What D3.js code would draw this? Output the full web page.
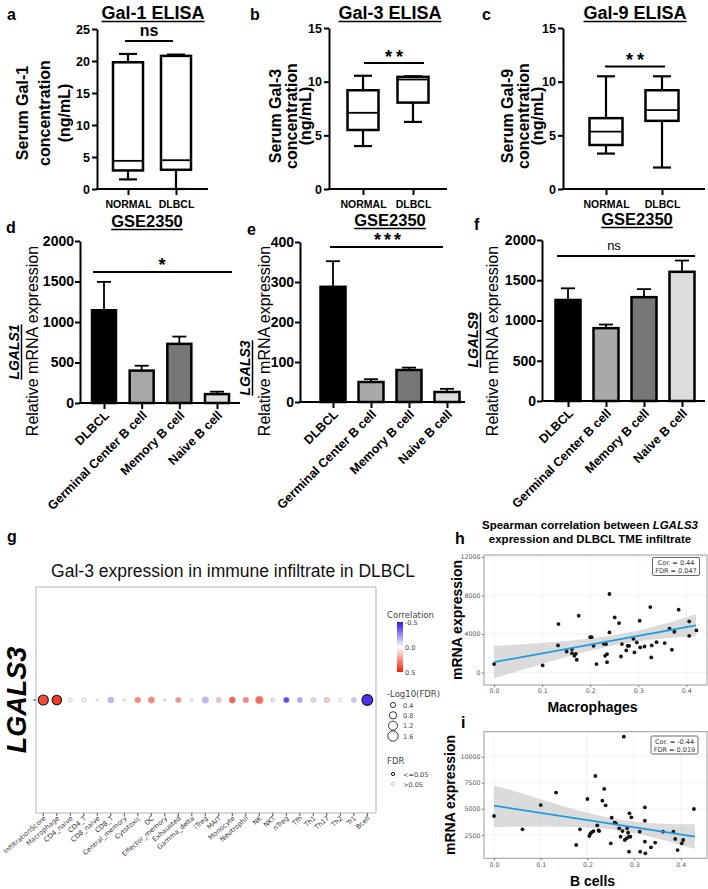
<!DOCTYPE html>
<html>
<head>
<meta charset="utf-8">
<script src="https://cdn.jsdelivr.net/npm/d3@7"></script>
<style>
  body { margin: 0; background: #fff; }
  svg { display: block; font-family: "Liberation Sans", Arial, sans-serif; }
</style>
</head>
<body>
<svg id="fig" width="708" height="889"></svg>
<script>
// ---- data ----
const elisaGroups = ["NORMAL", "DLBCL"];
// [min, q1, median, q3, max]
const gal1Normal = [1.5, 2.9, 4.4, 19.8, 21.1];
const gal1Dlbcl = [0, 3.0, 4.5, 20.8, 21.0];
const gal3Normal = [4.0, 5.5, 7.1, 9.2, 10.55];
const gal3Dlbcl = [6.25, 8.05, 10.2, 10.45, 10.5];
const gal9Normal = [3.3, 4.1, 5.35, 6.6, 10.5];
const gal9Dlbcl = [2.0, 6.35, 7.35, 9.2, 10.5];
const gal1Ticks = [0, 5, 10, 15, 20, 25];
const gal39Ticks = [0, 5, 10, 15];

const cellTypes = ["DLBCL", "Germinal Center B cell", "Memory B cell", "Naive B cell"];
const lgals1Mean = [1145, 400, 730, 110];
const lgals1Sem = [350, 60, 90, 30];
const lgals3Mean = [288, 50, 80, 25];
const lgals3Sem = [64, 7, 6, 8];
const lgals9Mean = [1255, 905, 1290, 1605];
const lgals9Sem = [145, 45, 100, 140];
const ticks2000 = [0, 500, 1000, 1500, 2000];
const ticks400 = [0, 100, 200, 300, 400];

const infiltrates = ["InfiltrationScore", "Macrophage", "CD4_naive", "CD4_T", "CD8_naive", "CD8_T",
  "Central_memory", "Cytotoxic", "DC", "Effector_memory", "Exhausted", "Gamma_delta", "iTreg", "MAIT",
  "Monocyte", "Neutrophil", "NK", "NKT", "nTreg", "Tfh", "Th1", "Th17", "Th2", "Tr1", "Bcell"];
const infCorr = [0.40, 0.44, 0.02, 0.01, 0.0, -0.16, 0.0, 0.28, 0.27, 0.02, 0.24, 0.0, -0.16, 0.14,
  0.36, 0.27, 0.34, 0.07, -0.40, -0.19, -0.09, 0.12, 0.0, -0.13, -0.44];
const infLogFdr = [1.5, 1.33, 0.24, 0.24, 0.1, 0.54, 0.13, 0.54, 0.65, 0.1, 0.47, 0.13, 0.6, 0.37,
  0.65, 0.54, 0.95, 0.24, 0.54, 0.43, 0.37, 0.43, 0.17, 0.37, 1.72];
const sizeLegend = [0.4, 0.8, 1.2, 1.6];
const corrLegend = [-0.5, 0.0, 0.5];

const macroX = [0.0, 0.101, 0.134, 0.133, 0.151, 0.162, 0.162, 0.167, 0.170, 0.172, 0.176, 0.200, 0.203,
  0.207, 0.213, 0.228, 0.233, 0.231, 0.235, 0.235, 0.240, 0.240, 0.251, 0.260, 0.264, 0.266, 0.275, 0.278,
  0.281, 0.290, 0.292, 0.297, 0.303, 0.304, 0.313, 0.325, 0.328, 0.327, 0.338, 0.355, 0.365, 0.370, 0.375,
  0.384, 0.406, 0.406, 0.421];
const macroY = [870, 730, 5030, 2810, 2180, 2430, 2010, 1730, 1940, 1320, 5890, 3670, 3670, 2770, 870,
  2980, 2950, 1730, 1910, 1070, 8150, 4160, 5720, 5130, 1660, 2950, 2290, 2770, 2770, 3500, 2080, 3120,
  5370, 2600, 2700, 6790, 2810, 1560, 3150, 3050, 4540, 2360, 4230, 6520, 3810, 5300, 4370];
const macroFitX = [0, 0.42];
const macroFitY = [1080, 4890];
const macroBandX = [0, 0.05, 0.1, 0.15, 0.2, 0.25, 0.3, 0.35, 0.42];
const macroBandLo = [-600, 150, 890, 1600, 2250, 2830, 3240, 3530, 3730];
const macroBandHi = [2760, 2910, 3090, 3280, 3530, 3870, 4360, 4990, 6050];

const bcellX = [0.0, 0.061, 0.100, 0.133, 0.176, 0.184, 0.200, 0.204, 0.206, 0.209, 0.213, 0.217, 0.221,
  0.224, 0.225, 0.232, 0.236, 0.239, 0.250, 0.252, 0.258, 0.261, 0.268, 0.271, 0.275, 0.278, 0.280, 0.284,
  0.285, 0.287, 0.289, 0.289, 0.290, 0.294, 0.292, 0.312, 0.313, 0.323, 0.323, 0.323, 0.324, 0.336, 0.345,
  0.362, 0.384, 0.388, 0.393, 0.402, 0.405, 0.428];
const bcellY = [4320, 3040, 5370, 6560, 1540, 3040, 5950, 2400, 2600, 2760, 2880, 8150, 3430, 2950, 2880,
  5790, 6910, 5340, 1700, 4160, 3680, 3620, 3140, 2340, 2880, 11920, 2020, 2180, 3140, 2720, 2340, 900,
  4580, 4190, 2340, 2820, 900, 5150, 3870, 1860, 740, 1320, 1770, 2820, 2820, 2120, 1060, 1700, 2020, 4990];
const bcellFitX = [0, 0.43];
const bcellFitY = [5307, 2337];
const bcellBandX = [0, 0.05, 0.1, 0.15, 0.2, 0.25, 0.3, 0.35, 0.43];
const bcellBandLo = [3250, 3300, 3320, 3300, 3230, 3040, 2690, 2170, 1160];
const bcellBandHi = [7250, 6610, 5920, 5240, 4630, 4120, 3790, 3610, 3520];
const scatterX = [0, 0.1, 0.2, 0.3, 0.4];
const macroTicks = [0, 4000, 8000, 12000];
const bcellTicks = [2500, 5000, 7500, 10000];

const barFills = ["#000000", "#a8a8a8", "#777777", "#dddddd"];
const DJ = '"DejaVu Sans", sans-serif';
const intFmt = d3.format("d");

const svg = d3.select("#fig");
svg.append("rect").attr("width", 708).attr("height", 889).attr("fill", "#fff");

function text(g, x, y, s, size, weight, anchor) {
  return g.append("text").attr("x", x).attr("y", y)
    .attr("font-size", size)
    .attr("font-weight", weight || "normal")
    .attr("text-anchor", anchor || "start")
    .text(s);
}

function underlined(g, x, y, s, size) {
  const t = text(g, x, y, s, size, "bold", "middle");
  const w = t.node().getComputedTextLength();
  g.append("line").attr("x1", x - w / 2).attr("x2", x + w / 2)
    .attr("y1", y + 2.5).attr("y2", y + 2.5).attr("stroke", "#000").attr("stroke-width", 1.6);
}

function styleAxis(sel, size, weight, width) {
  sel.attr("font-family", null).attr("font-size", size).attr("font-weight", weight);
  sel.select(".domain").attr("stroke-width", width);
  sel.selectAll(".tick line").attr("stroke-width", width);
  sel.selectAll(".tick text").attr("fill", "#000");
}

// ---- panels a-c: ELISA box plots ----
function boxPanel(o) {
  const g = svg.append("g");
  const y = d3.scaleLinear().domain([0, d3.max(o.ticks)]).range([o.y0, o.yTop]);
  const x = d3.scalePoint().domain(elisaGroups).range(o.centers);

  [o.normal, o.dlbcl].forEach((b, i) => {
    const cx = x(elisaGroups[i]);
    const [mn, q1, md, q3, mx] = b;
    const line = (x1, y1, x2, y2) => g.append("line").attr("x1", x1).attr("y1", y1)
      .attr("x2", x2).attr("y2", y2).attr("stroke", "#000").attr("stroke-width", 2.2);
    line(cx, y(mn), cx, y(q1));
    line(cx, y(q3), cx, y(mx));
    line(cx - 9, y(mn), cx + 9, y(mn));
    line(cx - 9, y(mx), cx + 9, y(mx));
    g.append("rect").attr("x", cx - o.bw / 2).attr("y", y(q3))
      .attr("width", o.bw).attr("height", y(q1) - y(q3))
      .attr("fill", "#fff").attr("stroke", "#000").attr("stroke-width", 2.5);
    line(cx - o.bw / 2, y(md), cx + o.bw / 2, y(md)).attr("stroke-width", 1.8);
  });

  const ya = g.append("g").attr("transform", `translate(${o.ax},0)`)
    .call(d3.axisLeft(y).tickValues(o.ticks).tickFormat(intFmt).tickSize(5).tickPadding(2).tickSizeOuter(0));
  styleAxis(ya, 12.5, "bold", 2);

  g.append("line").attr("x1", o.ax - 1).attr("x2", o.axEnd).attr("y1", o.y0).attr("y2", o.y0)
    .attr("stroke", "#000").attr("stroke-width", 2);
  const xa = g.append("g").attr("transform", `translate(0,${o.y0})`)
    .call(d3.axisBottom(x).tickSize(6).tickPadding(6).tickSizeOuter(0));
  xa.select(".domain").remove();
  styleAxis(xa, 10.5, "bold", 2);

  text(g, o.letterX, 20, o.letter, 16, "bold");
  underlined(g, o.titleX, 19, o.title, 18);

  g.append("line").attr("x1", o.sigX[0]).attr("x2", o.sigX[1]).attr("y1", o.sigY).attr("y2", o.sigY)
    .attr("stroke", "#000").attr("stroke-width", 1.8);
  const st = text(g, (o.sigX[0] + o.sigX[1]) / 2 + o.sigDx, o.sigTextY, o.sig, o.sigSize, "bold", "middle");
  if (o.sigSpace) st.attr("letter-spacing", o.sigSpace);

  o.ylab.forEach((s, i) => {
    g.append("text").attr("transform", `translate(${o.ylabX[i]},${o.ylabY}) rotate(-90)`)
      .attr("text-anchor", "middle").attr("font-size", 16).attr("font-weight", "bold").text(s);
  });
}

boxPanel({ centers: [128, 176], ax: 97, axEnd: 208, y0: 189, yTop: 29, ticks: gal1Ticks,
  normal: gal1Normal, dlbcl: gal1Dlbcl, bw: 30, title: "Gal-1 ELISA", titleX: 153, letter: "a", letterX: 7,
  sig: "ns", sigSize: 16, sigY: 41, sigX: [125, 173], sigTextY: 36, sigDx: 0,
  ylab: ["Serum Gal-1", "concentration", "(ng/mL)"], ylabX: [28, 50, 70], ylabY: 113 });
boxPanel({ centers: [363, 413], ax: 329, axEnd: 447, y0: 189, yTop: 28, ticks: gal39Ticks,
  normal: gal3Normal, dlbcl: gal3Dlbcl, bw: 31, title: "Gal-3 ELISA", titleX: 390, letter: "b", letterX: 250,
  sig: "**", sigSize: 18, sigSpace: 4, sigY: 63, sigX: [364, 424], sigTextY: 63, sigDx: 2,
  ylab: ["Serum Gal-3", "concentration", "(ng/mL)"], ylabX: [281, 297, 311], ylabY: 116 });
boxPanel({ centers: [606, 662], ax: 563, axEnd: 705, y0: 189, yTop: 28, ticks: gal39Ticks,
  normal: gal9Normal, dlbcl: gal9Dlbcl, bw: 33, title: "Gal-9 ELISA", titleX: 635, letter: "c", letterX: 482,
  sig: "**", sigSize: 18, sigSpace: 4, sigY: 66.5, sigX: [605, 665], sigTextY: 66, sigDx: 2,
  ylab: ["Serum Gal-9", "concentration", "(ng/mL)"], ylabX: [513, 529, 543], ylabY: 116 });

// ---- panels d-f: GSE2350 bar charts ----
function barPanel(o) {
  const g = svg.append("g");
  const y = d3.scaleLinear().domain([0, d3.max(o.ticks)]).range([o.y0, o.yTop]);
  const x = d3.scalePoint().domain(cellTypes).range(o.centers);

  cellTypes.forEach((c, i) => {
    const cx = x(c), top = y(o.mean[i] + o.sem[i]);
    g.append("line").attr("x1", cx).attr("x2", cx).attr("y1", y(o.mean[i])).attr("y2", top)
      .attr("stroke", "#000").attr("stroke-width", 1.8);
    g.append("line").attr("x1", cx - 7).attr("x2", cx + 7).attr("y1", top).attr("y2", top)
      .attr("stroke", "#000").attr("stroke-width", 1.8);
  });
  g.selectAll(".bar").data(cellTypes).join("rect")
    .attr("x", c => x(c) - o.bw / 2)
    .attr("y", (c, i) => y(o.mean[i]))
    .attr("width", o.bw)
    .attr("height", (c, i) => o.y0 - y(o.mean[i]))
    .attr("fill", (c, i) => barFills[i])
    .attr("stroke", "#000").attr("stroke-width", 2.5);

  const ya = g.append("g").attr("transform", `translate(${o.ax},0)`)
    .call(d3.axisLeft(y).tickValues(o.ticks).tickFormat(intFmt).tickSize(5).tickPadding(1).tickSizeOuter(0));
  styleAxis(ya, 14, "bold", 2);
  g.append("line").attr("x1", o.ax - 1).attr("x2", o.axEnd).attr("y1", o.y0).attr("y2", o.y0)
    .attr("stroke", "#000").attr("stroke-width", 2);
  const xa = g.append("g").attr("transform", `translate(0,${o.y0})`)
    .call(d3.axisBottom(x).tickSize(6).tickSizeOuter(0).tickFormat(""));
  xa.select(".domain").remove();
  styleAxis(xa, 12, "bold", 2);

  g.selectAll(".xl").data(cellTypes).join("text")
    .attr("transform", c => `translate(${x(c) + 6},${o.y0 + 13}) rotate(-45)`)
    .attr("text-anchor", "end").attr("font-size", 12.5).attr("font-weight", "bold").text(c => c);

  text(g, o.letterX, o.letterY, o.letter, 16, "bold");
  underlined(g, o.titleX, o.titleY, "GSE2350", 16.5);

  g.append("line").attr("x1", o.sigX[0]).attr("x2", o.sigX[1]).attr("y1", o.sigY).attr("y2", o.sigY)
    .attr("stroke", "#000").attr("stroke-width", 2);
  const st = text(g, o.sigTextX, o.sigTextY, o.sig, o.sigSize, o.sigWeight, "middle");
  if (o.sigSpace) st.attr("letter-spacing", o.sigSpace);

  // y label: gene name (italic, underlined) + Relative mRNA expression
  const gg = g.append("g").attr("transform", `translate(${o.geneX},${o.geneY}) rotate(-90)`);
  const gt = gg.append("text").attr("text-anchor", "middle").attr("font-size", 14)
    .attr("font-weight", "bold").attr("font-style", "italic").text(o.gene);
  const gw = gt.node().getComputedTextLength();
  gg.append("line").attr("x1", -gw / 2).attr("x2", gw / 2).attr("y1", 2.5).attr("y2", 2.5)
    .attr("stroke", "#000").attr("stroke-width", 1.5);
  g.append("text").attr("transform", `translate(${o.relX},341) rotate(-90)`)
    .attr("text-anchor", "middle").attr("font-size", 16).text("Relative mRNA expression");
}

barPanel({ ax: 80, axEnd: 240, y0: 403, yTop: 241, ticks: ticks2000, centers: [104, 217], bw: 24,
  mean: lgals1Mean, sem: lgals1Sem, letter: "d", letterX: 6, letterY: 233, titleX: 147, titleY: 227,
  sig: "*", sigSize: 18, sigWeight: "bold", sigX: [93, 232], sigY: 272, sigTextX: 162, sigTextY: 271,
  gene: "LGALS1", geneX: 19, geneY: 352, relX: 38 });
barPanel({ ax: 300, axEnd: 465, y0: 402, yTop: 242, ticks: ticks400, centers: [333, 447], bw: 25,
  mean: lgals3Mean, sem: lgals3Sem, letter: "e", letterX: 247, letterY: 235, titleX: 390, titleY: 226,
  sig: "***", sigSize: 18, sigWeight: "bold", sigSpace: 3, sigX: [330, 443], sigY: 247, sigTextX: 389, sigTextY: 246,
  gene: "LGALS3", geneX: 250, geneY: 368, relX: 270 });
barPanel({ ax: 542, axEnd: 705, y0: 401, yTop: 240, ticks: ticks2000, centers: [568, 682], bw: 25,
  mean: lgals9Mean, sem: lgals9Sem, letter: "f", letterX: 474, letterY: 230, titleX: 637, titleY: 225,
  sig: "ns", sigSize: 13, sigWeight: "normal", sigX: [557, 695], sigY: 256, sigTextX: 614, sigTextY: 250,
  gene: "LGALS9", geneX: 478, geneY: 340, relX: 498 });

// ---- panel g: dot plot ----
(function () {
  const g = svg.append("g");
  const x = d3.scalePoint().domain(infiltrates).range([43.3, 367.3]);
  const r = d3.scaleSqrt().domain([0, 1.8]).range([0, 5.5]);
  const col = d3.scaleLinear().domain([-0.5, 0, 0.5]).range(["#3414f2", "#ffffff", "#f41e08"]);
  const rowY = 700;

  text(g, 7, 542, "g", 16, "bold");
  text(g, 233, 577, "Gal-3 expression in immune infiltrate in DLBCL", 17.5, "normal", "middle").attr("fill", "#111");

  g.append("rect").attr("x", 36).attr("y", 587).attr("width", 340).attr("height", 226)
    .attr("fill", "none").attr("stroke", "#b3b3b3").attr("stroke-width", 1);
  g.append("line").attr("x1", 33).attr("x2", 36).attr("y1", rowY).attr("y2", rowY).attr("stroke", "#555");
  g.selectAll(".tk").data(infiltrates).join("line")
    .attr("x1", d => x(d)).attr("x2", d => x(d)).attr("y1", 813).attr("y2", 816).attr("stroke", "#555");

  g.selectAll(".dot").data(infiltrates).join("circle")
    .attr("cx", d => x(d)).attr("cy", rowY)
    .attr("r", (d, i) => r(infLogFdr[i]))
    .attr("fill", (d, i) => col(infCorr[i]))
    .attr("stroke", (d, i) => infLogFdr[i] >= 1.3 ? "#111" : "#c4c4c4")
    .attr("stroke-width", (d, i) => infLogFdr[i] >= 1.3 ? 1.1 : 0.8);

  g.selectAll(".xl").data(infiltrates).join("text")
    .attr("transform", d => `translate(${x(d) + 3},819) rotate(-41)`)
    .attr("text-anchor", "end").attr("font-family", DJ).attr("font-size", 6.7).attr("fill", "#333")
    .text(d => d);

  g.append("text").attr("transform", "translate(26,700) rotate(-90)").attr("text-anchor", "middle")
    .attr("font-size", 27).attr("font-weight", "bold").attr("font-style", "italic").text("LGALS3");

  // legends
  const lg = g.append("g").attr("font-family", DJ).attr("fill", "#444");
  lg.append("text").attr("x", 387).attr("y", 618).attr("font-size", 8.5).text("Correlation");
  const grad = svg.append("defs").append("linearGradient").attr("id", "corrGrad")
    .attr("x1", 0).attr("x2", 0).attr("y1", 0).attr("y2", 1);
  corrLegend.forEach((v, i) => grad.append("stop")
    .attr("offset", i / (corrLegend.length - 1)).attr("stop-color", col(v)));
  const cb = d3.scaleLinear().domain([-0.5, 0.5]).range([622, 672]);
  lg.append("rect").attr("x", 397).attr("y", 622).attr("width", 6).attr("height", 50).attr("fill", "url(#corrGrad)");
  corrLegend.forEach(v => lg.append("text").attr("x", 405).attr("y", cb(v) + 2.5).attr("font-size", 6.5)
    .text(v.toFixed(1)));

  lg.append("text").attr("x", 387).attr("y", 697).attr("font-size", 8.5).text("-Log10(FDR)");
  const sy = d3.scalePoint().domain(sizeLegend).range([705, 736]);
  sizeLegend.forEach(v => {
    lg.append("circle").attr("cx", 393).attr("cy", sy(v)).attr("r", r(v))
      .attr("fill", "#fff").attr("stroke", "#222").attr("stroke-width", 0.9);
    lg.append("text").attr("x", 403).attr("y", sy(v) + 2.5).attr("font-size", 6.5).text(v.toFixed(1));
  });

  lg.append("text").attr("x", 387).attr("y", 764).attr("font-size", 8.5).text("FDR");
  lg.append("circle").attr("cx", 393).attr("cy", 774).attr("r", 1.6).attr("fill", "#fff")
    .attr("stroke", "#111").attr("stroke-width", 1);
  lg.append("text").attr("x", 403).attr("y", 776.5).attr("font-size", 6.5).text("<=0.05");
  lg.append("circle").attr("cx", 393).attr("cy", 784).attr("r", 1.6).attr("fill", "#fff")
    .attr("stroke", "#c4c4c4").attr("stroke-width", 1);
  lg.append("text").attr("x", 403).attr("y", 786.5).attr("font-size", 6.5).text(">0.05");
})();

// ---- panels h, i: scatter with regression ----
function scatterPanel(o) {
  const g = svg.append("g");
  const x = d3.scaleLinear().domain(o.xDom).range([o.left, o.right]);
  const y = d3.scaleLinear().domain(o.yDom).range([o.bottom, o.top]);

  g.append("rect").attr("x", o.left).attr("y", o.top).attr("width", o.right - o.left)
    .attr("height", o.bottom - o.top).attr("fill", "#fff");
  scatterX.forEach(v => g.append("line").attr("x1", x(v)).attr("x2", x(v)).attr("y1", o.top).attr("y2", o.bottom)
    .attr("stroke", "#f0f0f0").attr("stroke-width", 0.8));
  o.yTicks.forEach(v => g.append("line").attr("x1", o.left).attr("x2", o.right).attr("y1", y(v)).attr("y2", y(v))
    .attr("stroke", "#f0f0f0").attr("stroke-width", 0.8));

  const band = o.bandX.map((v, i) => ({ x: v, lo: o.bandLo[i], hi: o.bandHi[i] }));
  g.append("path").datum(band)
    .attr("d", d3.area().curve(d3.curveMonotoneX).x(d => x(d.x)).y0(d => y(d.lo)).y1(d => y(d.hi)))
    .attr("fill", "#bdbdbd").attr("fill-opacity", 0.55);

  g.selectAll(".pt").data(o.px).join("circle")
    .attr("cx", d => x(d)).attr("cy", (d, i) => y(o.py[i])).attr("r", 1.9).attr("fill", "#111");

  g.append("path").datum(o.fitX.map((v, i) => [v, o.fitY[i]]))
    .attr("d", d3.line().x(d => x(d[0])).y(d => y(d[1])))
    .attr("stroke", "#1d9be3").attr("stroke-width", 1.8).attr("fill", "none");

  g.append("rect").attr("x", o.left).attr("y", o.top).attr("width", o.right - o.left)
    .attr("height", o.bottom - o.top).attr("fill", "none").attr("stroke", "#9a9a9a").attr("stroke-width", 1);

  const ya = g.append("g").attr("transform", `translate(${o.left},0)`)
    .call(d3.axisLeft(y).tickValues(o.yTicks).tickFormat(intFmt).tickSize(2).tickPadding(1.5));
  ya.select(".domain").remove();
  ya.attr("font-family", DJ).attr("font-size", 6.3);
  ya.selectAll(".tick text").attr("fill", "#555");
  ya.selectAll(".tick line").attr("stroke", "#777");
  const xa = g.append("g").attr("transform", `translate(0,${o.bottom})`)
    .call(d3.axisBottom(x).tickValues(scatterX).tickFormat(d3.format(".1f")).tickSize(2).tickPadding(2));
  xa.select(".domain").remove();
  xa.attr("font-family", DJ).attr("font-size", 6.3);
  xa.selectAll(".tick text").attr("fill", "#555");
  xa.selectAll(".tick line").attr("stroke", "#777");

  // Cor box
  g.append("rect").attr("x", o.boxX).attr("y", o.boxY).attr("width", 47).attr("height", 18).attr("rx", 1.5)
    .attr("fill", "#fff").attr("stroke", "#555").attr("stroke-width", 0.9);
  o.boxText.forEach((s, i) => text(g, o.boxX + 23.5, o.boxY + 7.5 + i * 8, s, 6.5, "normal", "middle")
    .attr("font-family", DJ).attr("fill", "#333"));

  text(g, (o.left + o.right) / 2 - 3, o.xlabY, o.xlab, 14, "bold", "middle");
  g.append("text").attr("transform", `translate(${o.ylabX},${(o.top + o.bottom) / 2}) rotate(-90)`)
    .attr("text-anchor", "middle").attr("font-size", 14).attr("font-weight", "bold").text("mRNA expression");
  text(g, o.letterX, o.letterY, o.letter, 16, "bold");
}

const ht = svg.append("text").attr("x", 590).attr("y", 529).attr("text-anchor", "middle")
  .attr("font-size", 11.5).attr("font-weight", "bold");
ht.append("tspan").text("Spearman correlation between ");
ht.append("tspan").attr("font-style", "italic").text("LGALS3");
text(svg, 590, 543, "expression and DLBCL TME infiltrate", 11.5, "bold", "middle");

scatterPanel({ xDom: [-0.021, 0.443], yDom: [-1300, 12200], left: 484, right: 707, top: 555, bottom: 685,
  yTicks: macroTicks, px: macroX, py: macroY, fitX: macroFitX, fitY: macroFitY,
  bandX: macroBandX, bandLo: macroBandLo, bandHi: macroBandHi,
  boxX: 652.5, boxY: 557.5, boxText: ["Cor. = 0.44", "FDR = 0.047"],
  xlab: "Macrophages", xlabY: 712, ylabX: 462, letter: "h", letterX: 455, letterY: 544 });
scatterPanel({ xDom: [-0.0214, 0.456], yDom: [268, 12395], left: 484, right: 707, top: 731.7, bottom: 858.3,
  yTicks: bcellTicks, px: bcellX, py: bcellY, fitX: bcellFitX, fitY: bcellFitY,
  bandX: bcellBandX, bandLo: bcellBandLo, bandHi: bcellBandHi,
  boxX: 651, boxY: 736, boxText: ["Cor. = -0.44", "FDR = 0.019"],
  xlab: "B cells", xlabY: 886, ylabX: 455, letter: "i", letterX: 461, letterY: 728 });
</script>
</body>
</html>
